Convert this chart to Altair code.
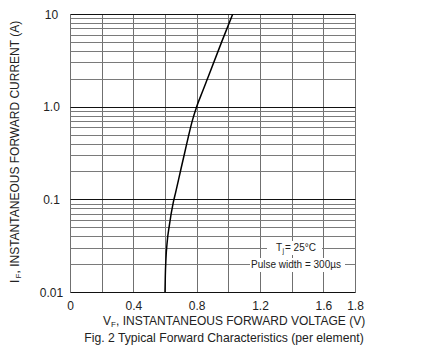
import altair as alt
import pandas as pd

# Curve (VF in volts, IF in amps)
vf = [0.600, 0.602, 0.606, 0.614, 0.627, 0.652, 0.667, 0.700, 0.724, 0.748, 0.774, 0.800, 0.840, 0.868, 0.958, 1.030]
i_f = [0.01, 0.015, 0.0228, 0.035, 0.0518, 0.0922, 0.118, 0.21, 0.316, 0.478, 0.72, 1.0, 1.5, 2.0, 5.0, 10.2]

x_ticks = [0, 0.2, 0.4, 0.6, 0.8, 1.0, 1.2, 1.4, 1.6, 1.8]
x_labels = {0: "0", 0.4: "0.4", 0.8: "0.8", 1.2: "1.2", 1.6: "1.6", 1.8: "1.8"}
decades = [0.01, 0.1, 1.0, 10.0]
y_labels = {0.01: "0.01", 0.1: "0.1", 1.0: "1.0", 10.0: "10"}
y_ticks = sorted(set([round(d * m, 4) for d in [0.01, 0.1, 1.0] for m in range(1, 10)] + [10.0]))

df = pd.DataFrame({"VF": vf, "IF": i_f})

font = "Liberation Sans"

x_expr = " : ".join([f"abs(datum.value - {k}) < 1e-6 ? '{v}'" for k, v in x_labels.items()]) + " : ''"
y_expr = " : ".join([f"abs(datum.value - {k}) < {k}*1e-3 ? '{v}'" for k, v in y_labels.items()]) + " : ''"
dec_test = " || ".join([f"abs(datum.value - {d}) < {d}*1e-3" for d in decades])

xs = alt.X("VF:Q", scale=alt.Scale(domain=[0, 1.8], nice=False, zero=False),
           axis=alt.Axis(values=x_ticks, labelExpr=x_expr, title=None, ticks=False,
                         labelPadding=8, labelFontSize=12, labelFont=font, labelColor="#222",
                         grid=True, gridColor="#707070", gridWidth=1, domain=False, labelFlush=False))
ys = alt.Y("IF:Q", scale=alt.Scale(type="log", domain=[0.01, 10], nice=False),
           axis=alt.Axis(values=y_ticks, labelExpr=y_expr, title=None, ticks=False, tickSize=0,
                         labelPadding=19, labelAlign="center", labelFontSize=12, labelFont=font,
                         labelColor="#222", grid=True,
                         gridColor={"condition": {"test": dec_test, "value": "#111"}, "value": "#7a7a7a"},
                         gridWidth=1, domain=False, labelFlush=False))

curve = alt.Chart(df).mark_line(color="black", strokeWidth=1.5, interpolate="monotone", clip=True).encode(
    x=xs, y=ys)

def txt(s, x, y, size=12, align="left", angle=0, baseline="middle"):
    kw = dict(text=s, fontSize=size, font=font, color="#222", align=align, baseline=baseline)
    if angle:
        kw["angle"] = angle
    return alt.Chart(pd.DataFrame({"a": [0]})).mark_text(**kw).encode(
        x=alt.value(x), y=alt.value(y))

def box(x1, x2, y1, y2):
    return alt.Chart(pd.DataFrame({"a": [0]})).mark_rect(color="white").encode(
        x=alt.value(x1), x2=alt.value(x2), y=alt.value(y1), y2=alt.value(y2))

layers = [
    curve,
    box(197, 252, 227, 241),
    box(180, 275, 244, 258),
    txt("T", 206, 234, size=10),
    txt("j", 212.5, 237, size=7),
    txt("= 25°C", 215, 234, size=10),
    txt("Pulse width = 300µs", 226, 250.5, size=10, align="center"),
    # y-axis title with subscript
    txt("I", -55, 269, angle=270),
    txt("F", -51, 264.5, size=8, angle=270),
    txt(", INSTANTANEOUS FORWARD CURRENT (A)", -55, 259.5, angle=270),
    # x-axis title with subscript
    txt("V", 33, 307),
    txt("F", 41, 311, size=8),
    txt(", INSTANTANEOUS FORWARD VOLTAGE (V)", 46, 307),
    txt("Fig. 2  Typical Forward Characteristics (per element)", 154, 324, size=12.2, align="center"),
]

chart = alt.layer(*layers).properties(
    width=285, height=278,
    autosize=alt.AutoSizeParams(type="none"),
    padding={"left": 62, "top": 6, "right": 50, "bottom": 58},
).configure_view(stroke="#555", strokeWidth=1).configure(background="white")

chart.save("out.html", embed_options={"renderer": "svg", "actions": False})
